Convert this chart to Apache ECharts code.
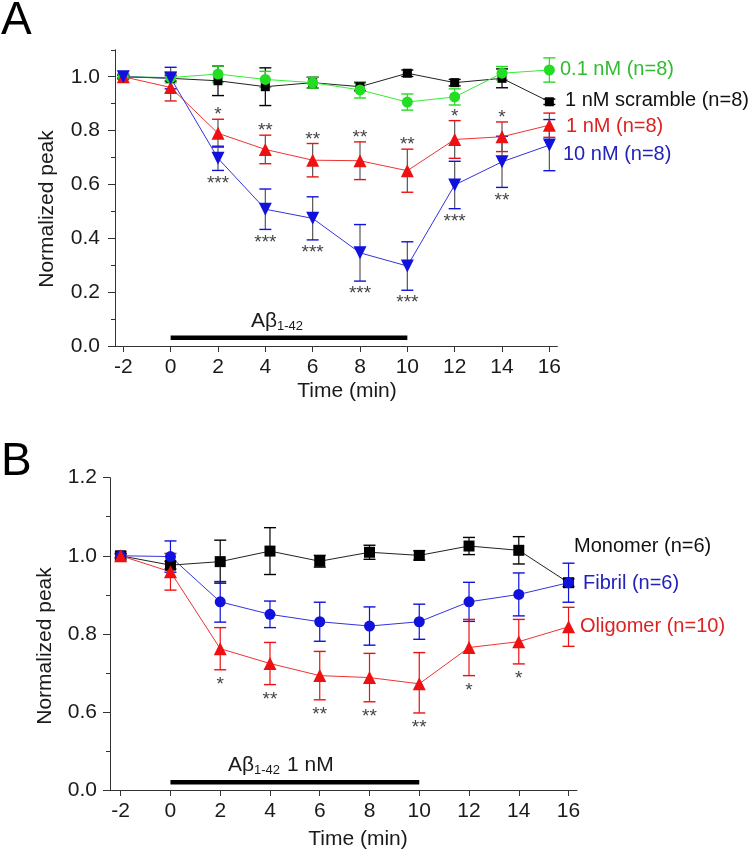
<!DOCTYPE html>
<html><head><meta charset="utf-8">
<script src="https://cdn.jsdelivr.net/npm/echarts@6/dist/echarts.min.js"></script>
<style>html,body{margin:0;padding:0;background:#fff}#c{width:750px;height:853px}</style>
</head><body><div id="c"></div><script>
// ---------- data ----------
const times = [-2, 0, 2, 4, 6, 8, 10, 12, 14, 16];
const xTicks = [-2, 0, 2, 4, 6, 8, 10, 12, 14, 16];
// Panel A
const aScramble    = [1.0, 0.994, 0.985, 0.963, 0.978, 0.963, 1.013, 0.978, 0.994, 0.907];
const aScrambleErr = [0.005, 0.01, 0.055, 0.07, 0.02, 0.015, 0.012, 0.012, 0.035, 0.01];
const aLow         = [1.0, 0.997, 1.01, 0.99, 0.978, 0.951, 0.906, 0.925, 1.013, 1.025];
const aLowErr      = [0.005, 0.02, 0.03, 0.03, 0.02, 0.03, 0.03, 0.03, 0.025, 0.045];
const a1nM         = [1.0, 0.96, 0.79, 0.73, 0.69, 0.688, 0.651, 0.767, 0.777, 0.82];
const a1nMErr      = [0.01, 0.05, 0.052, 0.053, 0.062, 0.07, 0.08, 0.07, 0.055, 0.045];
const a10nM        = [1.0, 0.995, 0.697, 0.508, 0.474, 0.346, 0.297, 0.598, 0.684, 0.746];
const a10nMErr     = [0.005, 0.04, 0.045, 0.075, 0.08, 0.105, 0.09, 0.088, 0.095, 0.095];
const a1nMStars    = ['', '', '*', '**', '**', '**', '**', '*', '*', ''];
const a10nMStars   = ['', '', '***', '***', '***', '***', '***', '***', '**', ''];
const aYMajor = [0, 0.2, 0.4, 0.6, 0.8, 1.0];
const aYMinor = [0.1, 0.3, 0.5, 0.7, 0.9, 1.1];
const aTreatX = [0, 10];
const aTreatLevel = 0.031;
// Panel B
const bMonomer     = [1.0, 0.976, 0.985, 1.012, 0.986, 1.009, 1.001, 1.025, 1.014, 0.931];
const bMonomerErr  = [0.005, 0.01, 0.055, 0.06, 0.015, 0.018, 0.012, 0.022, 0.035, 0.01];
const bFibril      = [1.0, 0.998, 0.882, 0.85, 0.831, 0.82, 0.831, 0.882, 0.901, 0.931];
const bFibrilErr   = [0.005, 0.04, 0.052, 0.034, 0.05, 0.049, 0.045, 0.05, 0.055, 0.05];
const bOligomer    = [1.0, 0.959, 0.762, 0.724, 0.693, 0.688, 0.672, 0.765, 0.78, 0.818];
const bOligomerErr = [0.01, 0.047, 0.054, 0.054, 0.062, 0.062, 0.08, 0.072, 0.057, 0.05];
const bOligomerStars = ['', '', '*', '**', '**', '**', '**', '*', '*', ''];
const bYMajorLabels = [0.0, 0.6, 0.8, 1.0, 1.2];
const bYMinor = [0.3, 0.7, 0.9, 1.1];
const bTreatX = [0, 10];
const bTreatLevel = 0.059;

// ---------- helpers ----------
const FONT = "'Liberation Sans', Arial, sans-serif";
// panel B y axis is broken: 0 -> 0.6 compressed to one 0.2 step
const fB = v => v >= 0.6 ? v : 0.4 + v / 3;
const idA = v => v;

function lineSeries(vals, color, symbol, size, rotate, xi, yi, tf, lineColor) {
  return {
    type: 'line', xAxisIndex: xi, yAxisIndex: yi,
    data: times.map((t, i) => [t, tf(vals[i])]),
    symbol: symbol, symbolSize: size, symbolRotate: rotate || 0,
    itemStyle: { color: color },
    lineStyle: { color: lineColor || color, width: 1 },
    z: 3, silent: true, animation: false
  };
}
function errSeries(vals, errs, stem, cap, xi, yi, tf) {
  return {
    type: 'custom', xAxisIndex: xi, yAxisIndex: yi, silent: true, animation: false, z: 2,
    data: times.map((t, i) => [t, tf(vals[i] - errs[i]), tf(vals[i] + errs[i])]),
    renderItem(params, api) {
      const x = api.value(0);
      const lo = api.coord([x, api.value(1)]);
      const hi = api.coord([x, api.value(2)]);
      const w = 6;
      return { type: 'group', children: [
        { type: 'line', shape: { x1: lo[0], y1: lo[1], x2: hi[0], y2: hi[1] }, style: { stroke: stem, lineWidth: 1.2 } },
        { type: 'line', shape: { x1: lo[0] - w, y1: lo[1], x2: lo[0] + w, y2: lo[1] }, style: { stroke: cap, lineWidth: 1.4 } },
        { type: 'line', shape: { x1: hi[0] - w, y1: hi[1], x2: hi[0] + w, y2: hi[1] }, style: { stroke: cap, lineWidth: 1.4 } }
      ]};
    }
  };
}
// stars placed relative to end of error bar (dir -1 above upper cap, +1 below lower cap)
function starSeries(vals, errs, stars, dir, gap, xi, yi, tf) {
  return {
    type: 'custom', xAxisIndex: xi, yAxisIndex: yi, silent: true, animation: false, z: 4,
    data: times.map((t, i) => [t, tf(vals[i] + (dir < 0 ? errs[i] : -errs[i])), stars[i]]),
    renderItem(params, api) {
      const p = api.coord([api.value(0), api.value(1)]);
      const s = stars[params.dataIndex];
      if (!s) return null;
      return { type: 'text', x: p[0], y: p[1] + dir * gap + 4.4,
        style: { text: s, fontSize: 19, fontFamily: FONT, fill: '#444', align: 'center', verticalAlign: 'middle' } };
    }
  };
}
function treatSeries(xs, level, xi, yi) {
  return {
    type: 'line', xAxisIndex: xi, yAxisIndex: yi, silent: true, animation: false,
    data: xs.map(x => [x, level]), symbol: 'none',
    lineStyle: { color: '#000', width: 4.5, cap: 'butt' }, z: 3
  };
}
function xAxis(gi, min, max) {
  return {
    type: 'value', gridIndex: gi, min: min, max: max,
    axisLine: { show: true, onZero: false, lineStyle: { color: '#333', width: 1 } },
    axisTick: { show: true, customValues: xTicks, length: 6, lineStyle: { color: '#333' } },
    axisLabel: { customValues: xTicks, margin: 11, fontSize: 21, fontFamily: FONT, color: '#1a1a1a', formatter: v => String(v) },
    splitLine: { show: false }
  };
}
function yAxis(gi, min, max, major, minor, fmt, margin) {
  return [{
    type: 'value', gridIndex: gi, min: min, max: max,
    axisLine: { show: true, onZero: false, lineStyle: { color: '#333', width: 1 } },
    axisTick: { show: true, customValues: major, length: 7, lineStyle: { color: '#333' } },
    axisLabel: { customValues: major, margin: margin, fontSize: 21, fontFamily: FONT, color: '#1a1a1a', formatter: fmt },
    splitLine: { show: false }
  }, {
    type: 'value', gridIndex: gi, min: min, max: max, position: 'left',
    axisLine: { show: false, onZero: false },
    axisTick: { show: true, customValues: minor, length: 4, lineStyle: { color: '#333' } },
    axisLabel: { show: false },
    splitLine: { show: false }
  }];
}

const GREEN = '#22dd22', RED = '#ee1111', BLUE = '#1111dd', BLACK = '#000';

const option = {
  backgroundColor: '#fff',
  animation: false,
  grid: [
    { left: 115, top: 49.8, width: 442.4, height: 296.2 },
    { left: 110, top: 477.7, width: 467, height: 312.3 }
  ],
  xAxis: [xAxis(0, -2.351, 16.34), xAxis(1, -2.43, 16.34)],
  yAxis: [
    ...yAxis(0, 0, 1.1, aYMajor, aYMinor, v => v.toFixed(1), 15),
    ...yAxis(1, 0.4, 1.2, bYMajorLabels.map(fB), bYMinor.map(fB), v => (Math.abs(v - 0.4) < 1e-6 ? 0 : v).toFixed(1), 13)
  ],
  series: [
    // Panel A
    errSeries(aScramble, aScrambleErr, BLACK, BLACK, 0, 0, idA),
    errSeries(aLow, aLowErr, GREEN, GREEN, 0, 0, idA),
    errSeries(a1nM, a1nMErr, '#555', RED, 0, 0, idA),
    errSeries(a10nM, a10nMErr, '#555', BLUE, 0, 0, idA),
    lineSeries(aScramble, BLACK, 'rect', 9, 0, 0, 0, idA, '#222'),
    lineSeries(aLow, GREEN, 'circle', 11, 0, 0, 0, idA, '#33ee33'),
    lineSeries(a1nM, RED, 'triangle', 13, 0, 0, 0, idA, '#ee3333'),
    lineSeries(a10nM, BLUE, 'triangle', 13, 180, 0, 0, idA, '#3333dd'),
    starSeries(a1nM, a1nMErr, a1nMStars, -1, 8.5, 0, 0, idA),
    starSeries(a10nM, a10nMErr, a10nMStars, 1, 8.5, 0, 0, idA),
    treatSeries(aTreatX, aTreatLevel, 0, 0),
    // Panel B
    errSeries(bMonomer, bMonomerErr, BLACK, BLACK, 1, 2, fB),
    errSeries(bFibril, bFibrilErr, BLUE, BLUE, 1, 2, fB),
    errSeries(bOligomer, bOligomerErr, RED, RED, 1, 2, fB),
    lineSeries(bMonomer, BLACK, 'rect', 11, 0, 1, 2, fB, '#222'),
    lineSeries(bFibril, BLUE, 'circle', 11, 0, 1, 2, fB, '#3333dd'),
    lineSeries(bOligomer, RED, 'triangle', 13, 0, 1, 2, fB, '#ee3333'),
    starSeries(bOligomer, bOligomerErr, bOligomerStars, 1, 10.5, 1, 2, fB),
    treatSeries(bTreatX, fB(bTreatLevel), 1, 2)
  ],
  graphic: [
    { type: 'text', x: 1, y: 21.5, style: { text: 'A', fontSize: 46, fontFamily: FONT, fill: '#000', verticalAlign: 'middle' } },
    { type: 'text', x: 1, y: 462.5, style: { text: 'B', fontSize: 46, fontFamily: FONT, fill: '#000', verticalAlign: 'middle' } },
    { type: 'text', x: 47, y: 209, rotation: Math.PI / 2, style: { text: 'Normalized peak', fontSize: 21, fontFamily: FONT, fill: '#1a1a1a', align: 'center', verticalAlign: 'middle' } },
    { type: 'text', x: 45, y: 646, rotation: Math.PI / 2, style: { text: 'Normalized peak', fontSize: 21, fontFamily: FONT, fill: '#1a1a1a', align: 'center', verticalAlign: 'middle' } },
    { type: 'text', x: 347, y: 391, style: { text: 'Time (min)', fontSize: 21, fontFamily: FONT, fill: '#1a1a1a', align: 'center', verticalAlign: 'middle' } },
    { type: 'text', x: 358, y: 839, style: { text: 'Time (min)', fontSize: 21, fontFamily: FONT, fill: '#1a1a1a', align: 'center', verticalAlign: 'middle' } },
    // A beta labels
    { type: 'text', x: 251, y: 321, style: { text: 'Aβ', fontSize: 21, fontFamily: FONT, fill: '#1a1a1a', verticalAlign: 'middle' } },
    { type: 'text', x: 277, y: 326, style: { text: '1-42', fontSize: 13, fontFamily: FONT, fill: '#1a1a1a', verticalAlign: 'middle' } },
    { type: 'text', x: 228, y: 765, style: { text: 'Aβ', fontSize: 21, fontFamily: FONT, fill: '#1a1a1a', verticalAlign: 'middle' } },
    { type: 'text', x: 254, y: 770, style: { text: '1-42', fontSize: 13, fontFamily: FONT, fill: '#1a1a1a', verticalAlign: 'middle' } },
    { type: 'text', x: 287, y: 765, style: { text: '1 nM', fontSize: 21, fontFamily: FONT, fill: '#1a1a1a', verticalAlign: 'middle' } },
    // legend labels A
    { type: 'text', x: 560, y: 69, style: { text: '0.1 nM (n=8)', fontSize: 20, fontFamily: FONT, fill: '#33bb33', verticalAlign: 'middle' } },
    { type: 'text', x: 565, y: 100, style: { text: '1 nM scramble (n=8)', fontSize: 20, fontFamily: FONT, fill: '#111', verticalAlign: 'middle' } },
    { type: 'text', x: 566, y: 126, style: { text: '1 nM (n=8)', fontSize: 20, fontFamily: FONT, fill: '#dd2222', verticalAlign: 'middle' } },
    { type: 'text', x: 563, y: 154, style: { text: '10 nM (n=8)', fontSize: 20, fontFamily: FONT, fill: '#2222bb', verticalAlign: 'middle' } },
    // legend labels B
    { type: 'text', x: 574, y: 546, style: { text: 'Monomer (n=6)', fontSize: 20, fontFamily: FONT, fill: '#111', verticalAlign: 'middle' } },
    { type: 'text', x: 583, y: 583, style: { text: 'Fibril (n=6)', fontSize: 20, fontFamily: FONT, fill: '#2222bb', verticalAlign: 'middle' } },
    { type: 'text', x: 580, y: 626, style: { text: 'Oligomer (n=10)', fontSize: 20, fontFamily: FONT, fill: '#dd2222', verticalAlign: 'middle' } }
  ]
};
const chart = echarts.init(document.getElementById('c'), null, { renderer: 'canvas' });
chart.setOption(option);
</script></body></html>
